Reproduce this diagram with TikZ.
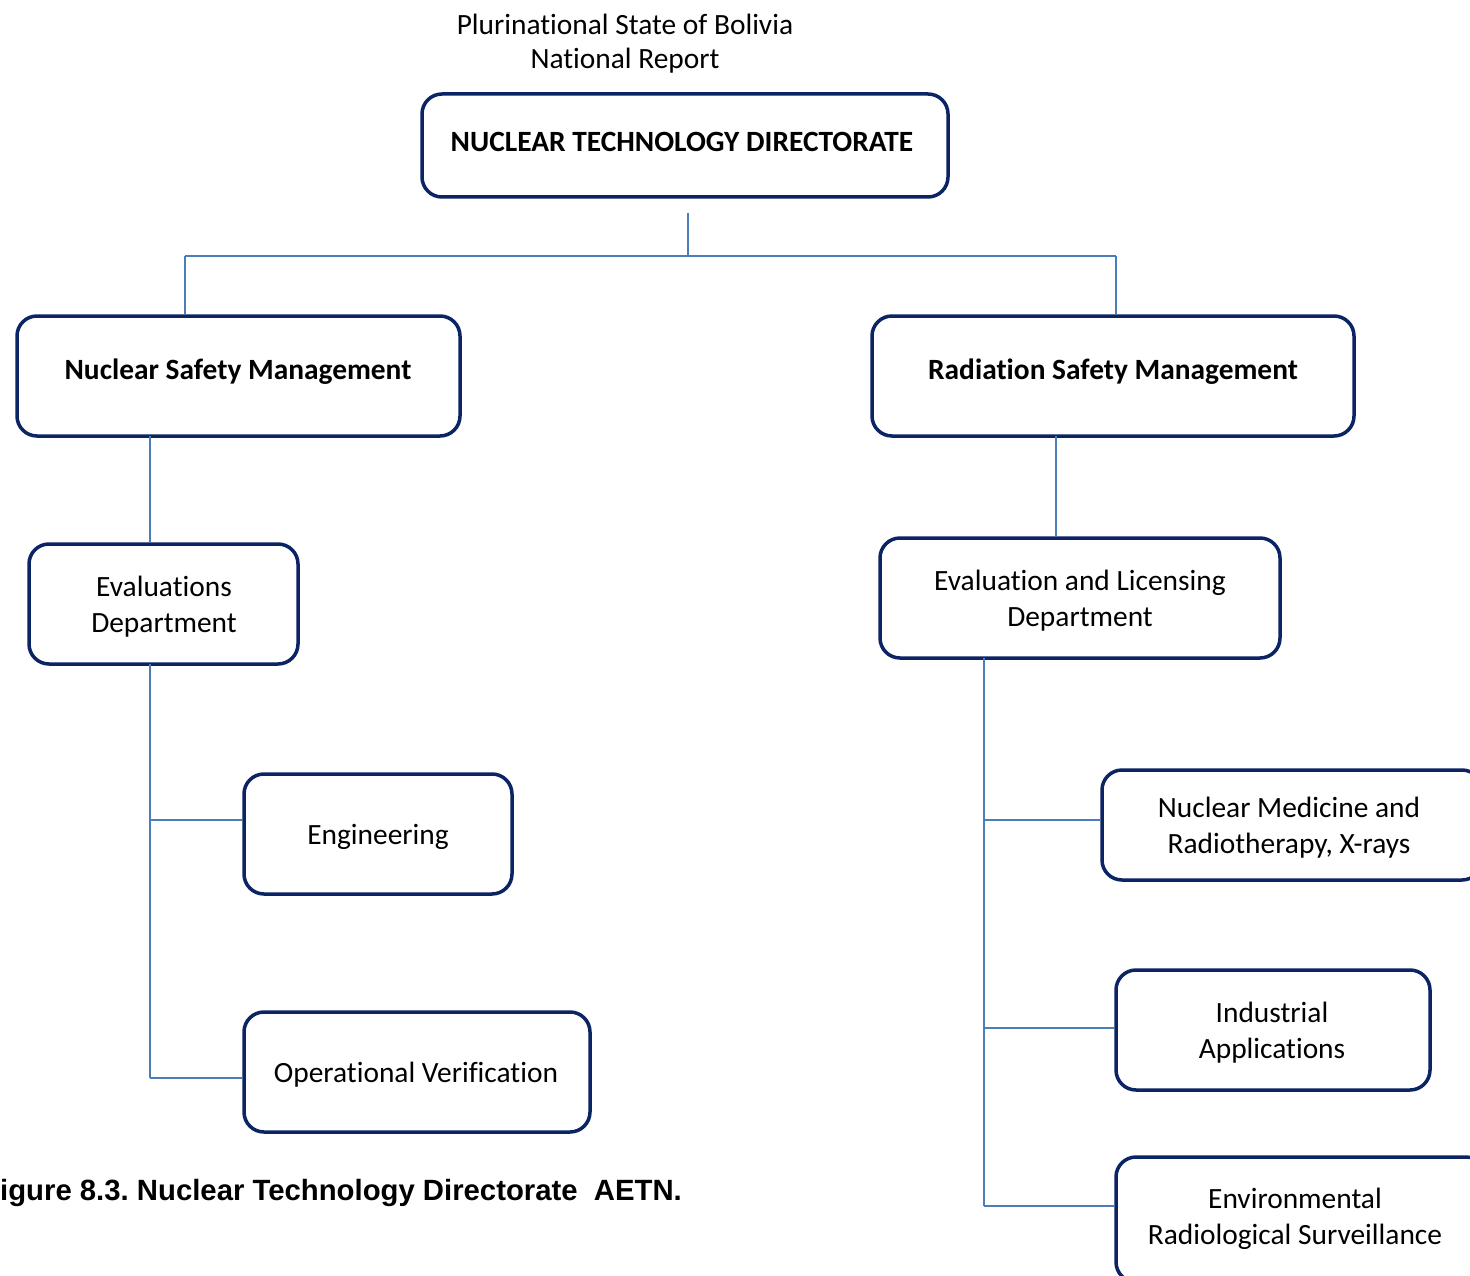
\documentclass[tikz,border=0pt]{standalone}
\usepackage{fontspec}
\setmainfont[Ligatures=NoCommon]{Carlito}
\newfontfamily\capfont{Liberation Sans}
\definecolor{boxnavy}{HTML}{0B2463}
\definecolor{linkblue}{HTML}{4A7EBB}
\frenchspacing
\begin{document}
\begin{tikzpicture}[x=1pt,y=-1pt,
  orgbox/.style={draw=boxnavy,line width=3.5pt,rounded corners=20pt,fill=white,inner sep=0pt},
  lbl/.style={font=\fontsize{29.4}{36}\selectfont,align=center,inner sep=0pt,text=black},
  blbl/.style={lbl,font=\fontsize{29.4}{36}\selectfont\bfseries},
  link/.style={draw=linkblue,line width=2.2pt}]
\useasboundingbox (0,0) rectangle (1470,1276);
\clip (0,0) rectangle (1470,1276);
\fill[white] (0,0) rectangle (1470,1276);

% header
\node[lbl] (hdr1) at (625,24) {Plurinational State of Bolivia};
\node[lbl] (hdr2) at (625,61) {National Report};

% connector coordinates
\coordinate (topstub) at (688,213);
\coordinate (hub) at (688,256);
\coordinate (hubL) at (185,256);
\coordinate (hubR) at (1116,256);

% boxes
\node[orgbox,minimum width=526pt,minimum height=103pt] (ntd) at (685,145.5) {};
\node[orgbox,minimum width=443pt,minimum height=120pt] (nsm) at (238.5,376) {};
\node[orgbox,minimum width=482pt,minimum height=120pt] (rsm) at (1113,376) {};
\node[orgbox,minimum width=269pt,minimum height=120pt] (evd) at (163.5,604) {};
\node[orgbox,minimum width=400pt,minimum height=120pt] (eld) at (1080,598) {};
\node[orgbox,minimum width=268pt,minimum height=120pt] (eng) at (378,834) {};
\node[orgbox,minimum width=346pt,minimum height=120pt] (opv) at (417,1072) {};
\node[orgbox,minimum width=380pt,minimum height=110pt] (nmr) at (1292,825) {};
\node[orgbox,minimum width=314pt,minimum height=120pt] (ind) at (1273,1030) {};
\node[orgbox,minimum width=370pt,minimum height=125pt] (env) at (1301,1219.5) {};

% connectors
\draw[link] (topstub) -- (hub);
\draw[link] (hubL) -- (hubR);
\draw[link] (hubL) -- (hubL |- nsm.north);
\draw[link] (hubR) -- (hubR |- rsm.north);

\coordinate (nsmdrop) at (150,436);
\draw[link] (nsmdrop) -- (nsmdrop |- evd.north);
\coordinate (evdrop) at (150,664);
\coordinate (evend) at (150,1078);
\draw[link] (evdrop) -- (evend);
\draw[link] (150,820) -- (eng.west |- 0,820);
\draw[link] (evend) -- (opv.west |- evend);

\coordinate (rsmdrop) at (1056,436);
\draw[link] (rsmdrop) -- (rsmdrop |- eld.north);
\coordinate (eldrop) at (984,658);
\coordinate (elend) at (984,1206);
\draw[link] (eldrop) -- (elend);
\draw[link] (984,820) -- (nmr.west |- 0,820);
\draw[link] (984,1028) -- (ind.west |- 0,1028);
\draw[link] (elend) -- (env.west |- elend);

% labels
\node[blbl] (tntd) at (682,142) {NUCLEAR TECHNOLOGY DIRECTORATE};
\node[blbl] (tnsm) at (238,372) {Nuclear Safety Management};
\node[blbl] (trsm) at (1113,372) {Radiation Safety Management};
\node[lbl] (tevd) at (164,606.5) {Evaluations\\Department};
\node[lbl] (teld) at (1080,600.5) {Evaluation and Licensing\\Department};
\node[lbl] (teng) at (378,837) {Engineering};
\node[lbl] (topv) at (416,1075) {Operational Verification};
\node[lbl] (tnmr) at (1289,828) {Nuclear Medicine and\\Radiotherapy, X-rays};
\node[lbl] (tind) at (1272,1033) {Industrial\\Applications};
\node[lbl] (tenv) at (1295,1219) {Environmental\\Radiological Surveillance};

% caption
\node[anchor=west,inner sep=0pt,font=\capfont\bfseries\fontsize{29.3}{34}\selectfont] (cap) at (0,1193) {igure 8.3. Nuclear Technology Directorate\ \ AETN.};
\end{tikzpicture}
\end{document}
